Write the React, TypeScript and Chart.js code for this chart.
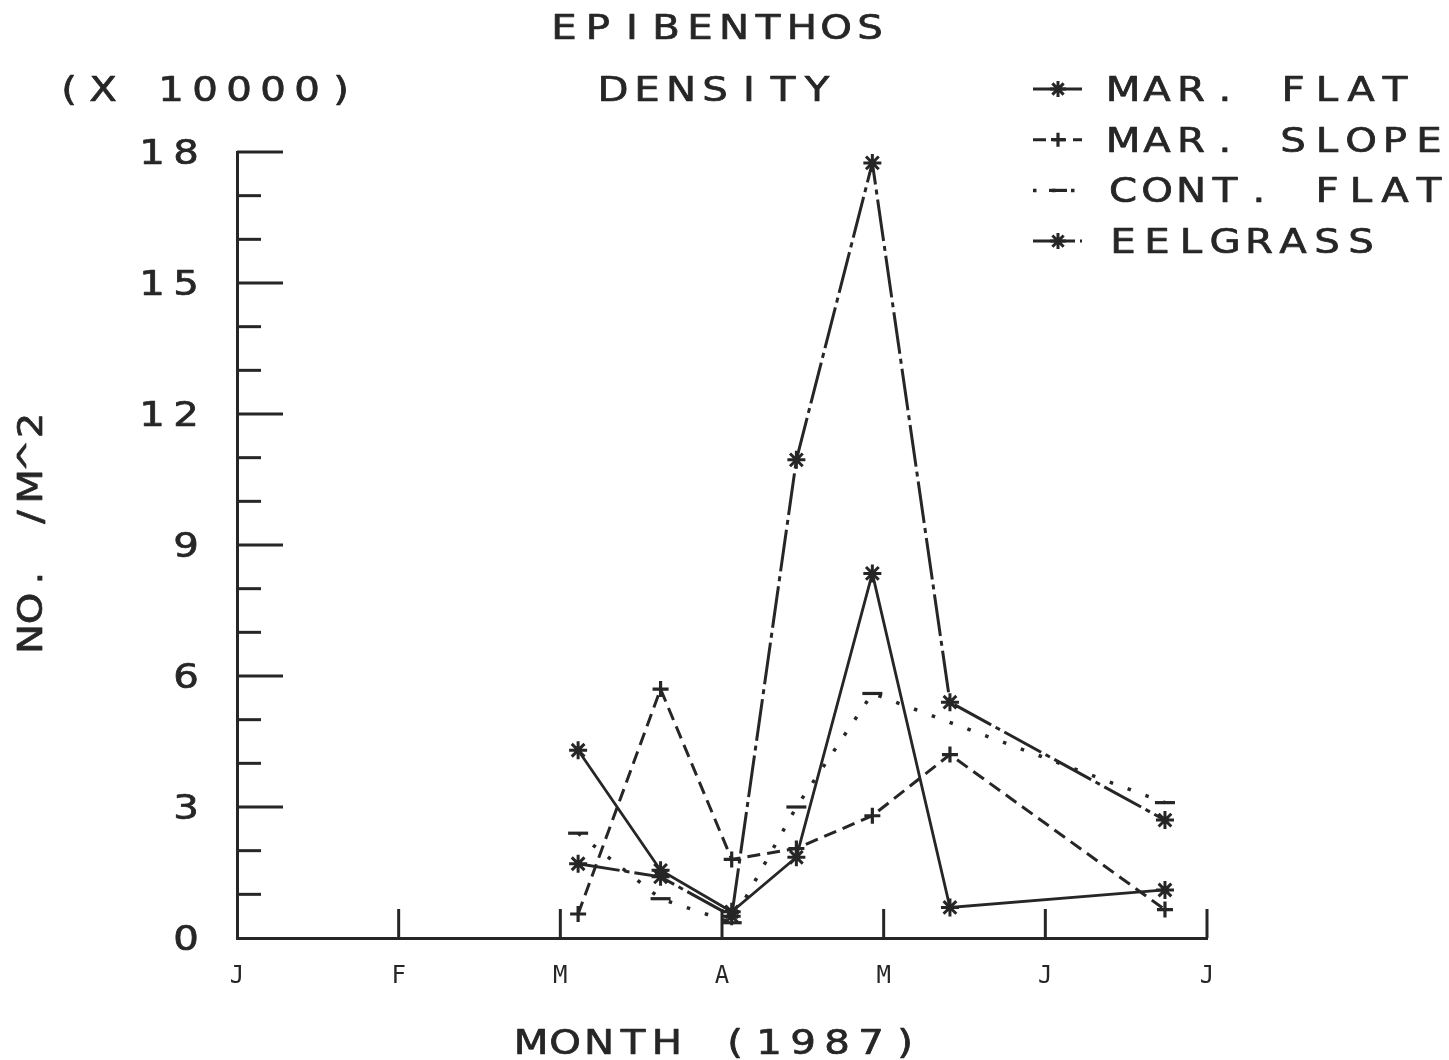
import React, { useEffect, useRef } from 'react';
import { Chart, registerables } from 'chart.js';

Chart.register(...registerables);

// ---- data ----
const MONTHS = ['J', 'F', 'M', 'A', 'M', 'J', 'J'];
const SAMPLE_MONTHS = [2.11, 2.62, 3.06, 3.46, 3.93, 4.41, 5.74];
const MAR_FLAT = [4.3, 1.55, 0.6, 1.85, 8.35, 0.7, 1.1];
const MAR_SLOPE = [0.55, 5.7, 1.8, 2.05, 2.8, 4.2, 0.65];
const CONT_FLAT = [2.4, 0.9, 0.35, 3.0, 5.6, null, 3.1];
const EELGRASS = [1.7, 1.4, 0.5, 10.95, 17.75, 5.4, 2.7];
const SERIES_NAMES = ['MAR. FLAT', 'MAR. SLOPE', 'CONT. FLAT', 'EELGRASS'];
const Y_TICKS = [0, 3, 6, 9, 12, 15, 18];
const TITLE_LINES = ['EPIBENTHOS', 'DENSITY'];
const Y_UNIT = '(X 10000)';
const Y_TITLE = 'NO. /M^2';
const X_TITLE = 'MONTH (1987)';

// ---- styles ----
const INK = '#262626';
const FONT = '33px "DejaVu Sans"';
const ADV = 34;
const HALF = 11;
const CAP = 24;
const SX = 1.22;

const SERIES_STYLE = [
  { dash: [] as number[], width: 2.8, point: 'star', radius: 9, pw: 3 },
  { dash: [13, 7], width: 3, point: 'cross', radius: 8, pw: 3.2 },
  { dash: [3.5, 15.5], width: 3.5, point: 'line', radius: 10, pw: 3.2 },
  { dash: [42, 5, 5, 5], width: 3, point: 'star', radius: 9, pw: 3 },
];

const SERIES_VALUES = [MAR_FLAT, MAR_SLOPE, CONT_FLAT, EELGRASS];

function drawChars(ctx: CanvasRenderingContext2D, text: string, x0: number, yc: number, adv: number = ADV) {
  ctx.save();
  ctx.font = FONT;
  ctx.fillStyle = INK;
  ctx.strokeStyle = INK;
  ctx.lineWidth = 0.7;
  ctx.lineJoin = 'round';
  ctx.textAlign = 'center';
  ctx.textBaseline = 'alphabetic';
  for (let i = 0; i < text.length; i++) {
    const ch = text[i];
    if (ch === ' ') continue;
    ctx.save();
    ctx.translate(x0 + i * adv + HALF, yc + CAP / 2);
    ctx.scale(SX, 1);
    ctx.fillText(ch, 0, 0);
    ctx.strokeText(ch, 0, 0);
    ctx.restore();
  }
  ctx.restore();
}

function drawMarker(ctx: CanvasRenderingContext2D, style: string, x: number, y: number, r: number, w: number) {
  ctx.save();
  ctx.setLineDash([]);
  ctx.strokeStyle = INK;
  ctx.lineWidth = w;
  ctx.beginPath();
  if (style === 'star') {
    for (let k = 0; k < 4; k++) {
      const a = (k * Math.PI) / 4;
      ctx.moveTo(x - Math.cos(a) * r, y - Math.sin(a) * r);
      ctx.lineTo(x + Math.cos(a) * r, y + Math.sin(a) * r);
    }
  } else if (style === 'cross') {
    ctx.moveTo(x - r, y);
    ctx.lineTo(x + r, y);
    ctx.moveTo(x, y - r);
    ctx.lineTo(x, y + r);
  } else {
    ctx.moveTo(x - r, y);
    ctx.lineTo(x + r, y);
  }
  ctx.stroke();
  ctx.restore();
}

const decorPlugin = {
  id: 'decor',
  afterDraw(chart: any) {
    const ctx: CanvasRenderingContext2D = chart.ctx;
    const xs = chart.scales.x;
    const ys = chart.scales.y;
    const left = chart.chartArea.left;
    const bottom = chart.chartArea.bottom;

    ctx.save();
    ctx.strokeStyle = INK;
    ctx.lineWidth = 3;
    ctx.setLineDash([]);
    // inward y ticks
    for (let v = ys.min + 1; v <= ys.max; v++) {
      const py = ys.getPixelForValue(v);
      const len = v % 3 === 0 ? 46 : 24;
      ctx.beginPath();
      ctx.moveTo(left, py);
      ctx.lineTo(left + len, py);
      ctx.stroke();
    }
    // upward x ticks
    for (let m = 1; m < MONTHS.length; m++) {
      const px = xs.getPixelForValue(m);
      ctx.beginPath();
      ctx.moveTo(px, bottom);
      ctx.lineTo(px, bottom - 29);
      ctx.stroke();
    }
    ctx.restore();

    // y tick labels
    Y_TICKS.forEach((v) => {
      const t = String(v);
      const py = ys.getPixelForValue(v);
      drawChars(ctx, t, 186 - HALF - (t.length - 1) * ADV, py);
    });

    // titles
    drawChars(ctx, TITLE_LINES[0], 553, 27);
    drawChars(ctx, TITLE_LINES[1], 602, 89);
    drawChars(ctx, Y_UNIT, 58, 89);
    drawChars(ctx, X_TITLE, 520, 1042);

    // y title (rotated)
    ctx.save();
    ctx.translate(30, 650);
    ctx.rotate(-Math.PI / 2);
    drawChars(ctx, Y_TITLE, 0, 0, 30.5);
    ctx.restore();

    // legend
    SERIES_NAMES.forEach((name, i) => {
      const y = 89 + i * 50.7;
      const st = SERIES_STYLE[i];
      ctx.save();
      ctx.strokeStyle = INK;
      ctx.lineWidth = st.width;
      ctx.setLineDash(st.dash);
      ctx.beginPath();
      ctx.moveTo(1033, y);
      ctx.lineTo(1082, y);
      ctx.stroke();
      ctx.restore();
      drawMarker(ctx, st.point, 1058, y, st.radius - 1, st.pw);
      drawChars(ctx, name, 1112, y);
    });
  },
};

export default function App() {
  const ref = useRef<HTMLCanvasElement>(null);

  useEffect(() => {
    const datasets = SERIES_NAMES.map((name, i) => {
      const st = SERIES_STYLE[i];
      const vals = SERIES_VALUES[i];
      const data = SAMPLE_MONTHS.map((x, k) => ({ x, y: vals[k] })).filter((p) => p.y !== null);
      return {
        label: name,
        data,
        borderColor: INK,
        backgroundColor: INK,
        borderWidth: st.width,
        borderDash: st.dash,
        tension: 0,
        fill: false,
        pointStyle: st.point,
        pointRadius: st.radius,
        pointBorderWidth: st.pw,
        pointBorderColor: INK,
        pointBackgroundColor: INK,
        clip: false,
      };
    });

    const chart = new Chart(ref.current as HTMLCanvasElement, {
      type: 'line',
      data: { datasets } as any,
      options: {
        animation: false,
        responsive: false,
        devicePixelRatio: 1,
        events: [],
        layout: { padding: { left: 0, right: 242, top: 152, bottom: 0 } },
        plugins: {
          legend: { display: false },
          title: { display: false },
          tooltip: { enabled: false },
        },
        scales: {
          x: {
            type: 'linear',
            min: 0,
            max: 6,
            grid: { display: false },
            border: { display: true, color: INK, width: 3 },
            ticks: {
              stepSize: 1,
              autoSkip: false,
              maxRotation: 0,
              padding: 16,
              color: INK,
              font: { family: '"DejaVu Sans Mono"', size: 24 },
              callback: (v: any) => MONTHS[Number(v)] ?? '',
            },
            afterFit: (s: any) => {
              s.height = 122;
            },
          },
          y: {
            type: 'linear',
            min: 0,
            max: 18,
            grid: { display: false },
            border: { display: true, color: INK, width: 3 },
            ticks: { display: false, stepSize: 1 },
            afterFit: (s: any) => {
              s.width = 237;
            },
          },
        },
      } as any,
      plugins: [decorPlugin],
    });
    return () => chart.destroy();
  }, []);

  return (
    <div style={{ position: 'fixed', left: 0, top: 0, width: 1449, height: 1060, background: '#fff' }}>
      <canvas ref={ref} width={1449} height={1060} style={{ display: 'block', width: 1449, height: 1060 }} />
    </div>
  );
}
